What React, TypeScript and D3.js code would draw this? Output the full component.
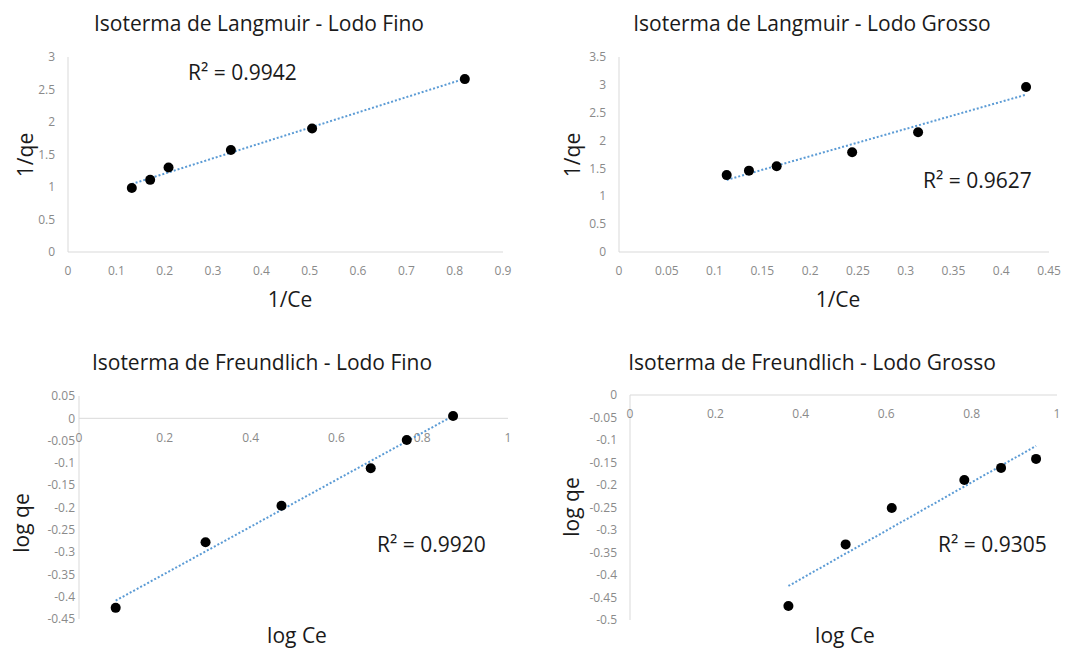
import * as d3 from "d3";
import React, { useEffect, useRef } from "react";

// Langmuir - lodo fino
const langFinoX = [0.132, 0.17, 0.208, 0.337, 0.505, 0.821];
const langFinoY = [0.985, 1.11, 1.3, 1.57, 1.9, 2.66];
// Langmuir - lodo grosso
const langGrossoX = [0.1127, 0.136, 0.165, 0.244, 0.313, 0.426];
const langGrossoY = [1.38, 1.46, 1.54, 1.79, 2.15, 2.96];
// Freundlich - lodo fino
const freFinoX = [0.0855, 0.295, 0.472, 0.68, 0.764, 0.872];
const freFinoY = [-0.425, -0.278, -0.196, -0.112, -0.0485, 0.005];
// Freundlich - lodo grosso
const freGrossoX = [0.371, 0.505, 0.613, 0.783, 0.869, 0.951];
const freGrossoY = [-0.469, -0.332, -0.251, -0.189, -0.162, -0.142];

const titles = [
  "Isoterma de Langmuir - Lodo Fino",
  "Isoterma de Langmuir - Lodo Grosso",
  "Isoterma de Freundlich - Lodo Fino",
  "Isoterma de Freundlich - Lodo Grosso",
];
const r2Labels = ["R² = 0.9942", "R² = 0.9627", "R² = 0.9920", "R² = 0.9305"];
const xTitles = ["1/Ce", "1/Ce", "log Ce", "log Ce"];
const yTitles = ["1/qe", "1/qe", "log qe", "log qe"];

const xDomains = [[0, 0.9], [0, 0.45], [0, 1], [0, 1]];
const yDomains = [[0, 3], [0, 3.5], [-0.45, 0.05], [-0.5, 0]];
const xSteps = [0.1, 0.05, 0.2, 0.2];
const ySteps = [0.5, 0.5, 0.05, 0.05];

const FONT = "'Open Sans', sans-serif";

interface Panel {
  xs: number[];
  ys: number[];
  xRange: [number, number];
  yRange: [number, number];
  titlePos: [number, number];
  r2Pos: [number, number];
  xTitlePos: [number, number];
  yTitlePos: [number, number];
  yLabelGap: number;
}

const PANELS: Panel[] = [
  { xs: langFinoX, ys: langFinoY, xRange: [68, 503], yRange: [252, 57], titlePos: [259, 31], r2Pos: [188, 80], xTitlePos: [290, 307], yTitlePos: [33, 155], yLabelGap: 13 },
  { xs: langGrossoX, ys: langGrossoY, xRange: [619, 1049], yRange: [252, 57], titlePos: [812, 31], r2Pos: [923, 188], xTitlePos: [838, 307], yTitlePos: [580, 155], yLabelGap: 13 },
  { xs: freFinoX, ys: freFinoY, xRange: [79, 508], yRange: [619, 396], titlePos: [262, 370], r2Pos: [377, 552], xTitlePos: [297, 643], yTitlePos: [29, 523], yLabelGap: 4 },
  { xs: freGrossoX, ys: freGrossoY, xRange: [630, 1057], yRange: [620, 395], titlePos: [812, 370], r2Pos: [938, 552], xTitlePos: [845, 643], yTitlePos: [579, 507], yLabelGap: 13 },
];

const fmt = (v: number) => String(+v.toFixed(3));

const steps = (lo: number, hi: number, step: number) => {
  const n = Math.round((hi - lo) / step);
  return d3.range(n + 1).map((i) => +(lo + i * step).toFixed(4));
};

const App: React.FC = () => {
  const svgRef = useRef<SVGSVGElement>(null);

  useEffect(() => {
    const svg = d3.select(svgRef.current);
    svg.selectAll("*").remove();

    PANELS.forEach((p, idx) => {
      const x = d3.scaleLinear().domain(xDomains[idx]).range(p.xRange);
      const y = d3.scaleLinear().domain(yDomains[idx]).range(p.yRange);
      const g = svg.append("g");
      const x0 = x(0);
      const y0 = y(0);

      // axis lines
      g.append("line")
        .attr("x1", x0).attr("x2", x0)
        .attr("y1", p.yRange[1]).attr("y2", p.yRange[0])
        .attr("stroke", "#d9d9d9").attr("stroke-width", 1);
      g.append("line")
        .attr("x1", p.xRange[0]).attr("x2", p.xRange[1])
        .attr("y1", y0).attr("y2", y0)
        .attr("stroke", "#d9d9d9").attr("stroke-width", 1);

      // y tick labels
      const yt = steps(yDomains[idx][0], yDomains[idx][1], ySteps[idx]);
      g.selectAll(".yt")
        .data(yt)
        .enter()
        .append("text")
        .attr("x", x0 - p.yLabelGap)
        .attr("y", (d: number) => y(d))
        .attr("dy", "0.35em")
        .attr("text-anchor", "end")
        .attr("font-family", FONT)
        .attr("font-size", 12)
        .attr("fill", "#8a8a8a")
        .text((d: number) => fmt(d));

      // x tick labels
      const xt = steps(xDomains[idx][0], xDomains[idx][1], xSteps[idx]);
      g.selectAll(".xt")
        .data(xt)
        .enter()
        .append("text")
        .attr("x", (d: number) => x(d))
        .attr("y", y0 + 19)
        .attr("dy", "0.35em")
        .attr("text-anchor", "middle")
        .attr("font-family", FONT)
        .attr("font-size", 12)
        .attr("fill", "#8a8a8a")
        .text((d: number) => fmt(d));

      // linear trendline
      const mx = d3.mean(p.xs) as number;
      const my = d3.mean(p.ys) as number;
      const sxy = d3.sum(p.xs, (v: number, i: number) => (v - mx) * (p.ys[i] - my));
      const sxx = d3.sum(p.xs, (v: number) => (v - mx) * (v - mx));
      const slope = sxy / sxx;
      const icpt = my - slope * mx;
      const [xa, xb] = d3.extent(p.xs) as [number, number];
      g.append("line")
        .attr("x1", x(xa)).attr("y1", y(icpt + slope * xa))
        .attr("x2", x(xb)).attr("y2", y(icpt + slope * xb))
        .attr("stroke", "#5b9bd5")
        .attr("stroke-width", 2)
        .attr("stroke-dasharray", "2,2");

      // points
      g.selectAll("circle")
        .data(p.xs)
        .enter()
        .append("circle")
        .attr("cx", (d: number) => x(d))
        .attr("cy", (_: number, i: number) => y(p.ys[i]))
        .attr("r", 5)
        .attr("fill", "#000");

      // titles
      g.append("text")
        .attr("x", p.titlePos[0]).attr("y", p.titlePos[1])
        .attr("text-anchor", "middle")
        .attr("font-family", FONT).attr("font-size", 21)
        .attr("fill", "#1a1a1a")
        .text(titles[idx]);

      g.append("text")
        .attr("x", p.r2Pos[0]).attr("y", p.r2Pos[1])
        .attr("font-family", FONT).attr("font-size", 21)
        .attr("fill", "#1a1a1a")
        .text(r2Labels[idx]);

      g.append("text")
        .attr("x", p.xTitlePos[0]).attr("y", p.xTitlePos[1])
        .attr("text-anchor", "middle")
        .attr("font-family", FONT).attr("font-size", 21)
        .attr("fill", "#1a1a1a")
        .text(xTitles[idx]);

      g.append("text")
        .attr("transform", `translate(${p.yTitlePos[0]},${p.yTitlePos[1]}) rotate(-90)`)
        .attr("text-anchor", "middle")
        .attr("font-family", FONT).attr("font-size", 21)
        .attr("fill", "#1a1a1a")
        .text(yTitles[idx]);
    });
  }, []);

  return (
    <svg
      ref={svgRef}
      width={1072}
      height={650}
      style={{ position: "absolute", left: 0, top: 0, background: "#fff" }}
    />
  );
};

export default App;
